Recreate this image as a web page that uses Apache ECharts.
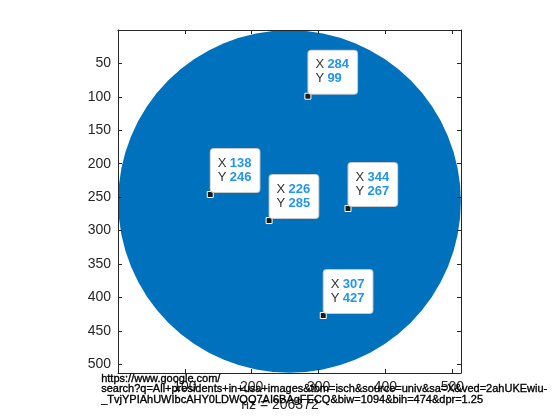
<!DOCTYPE html>
<html>
<head>
<meta charset="utf-8">
<script src="https://cdn.jsdelivr.net/npm/echarts@6/dist/echarts.min.js"></script>
<style>html,body{margin:0;padding:0;background:#fff}#c{width:560px;height:420px}</style>
</head>
<body>
<div id="c"></div>
<script>
// Data
var matrixSize = 512;            // spy of a 512x512 sparse matrix
var diskCenter = [256.5, 256.5]; // centre of the filled nonzero pattern
var diskRadius = 256.3;          // radius of the nonzero pattern
var nzCount = 206372;
var tipX = [284, 138, 226, 344, 307];
var tipY = [99, 246, 285, 267, 427];
var xTicks = [100, 200, 300, 400, 500];
var yTicks = [50, 100, 150, 200, 250, 300, 350, 400, 450, 500];
var urlLines = [
  'https://www.google.com/',
  'search?q=All+presidents+in+usa+images&tbm=isch&source=univ&sa=X&ved=2ahUKEwiu-',
  '_TvjYPIAhUWIbcAHY0LDWQQ7AI6BAgFECQ&biw=1094&bih=474&dpr=1.25'
];

var chart = echarts.init(document.getElementById('c'), null, {renderer: 'canvas'});
var axMax = matrixSize + 1;
var txt = '#262626';
var font = 'Liberation Sans, Arial, Helvetica, sans-serif';

function baseAxis(pos, labels) {
  return {
    type: 'value', position: pos, min: 0, max: axMax, interval: 50,
    z: 10,
    axisLine: {show: true, onZero: false, lineStyle: {color: txt, width: 1}},
    axisTick: {show: true, inside: true, length: 4, lineStyle: {color: txt},
      customValues: labels === 'x' ? xTicks : yTicks},
    axisLabel: {show: pos === 'bottom' || pos === 'left', color: txt, fontSize: 14, fontFamily: font,
      margin: 7, customValues: labels === 'x' ? xTicks : yTicks},
    splitLine: {show: false}
  };
}

var tipData = tipX.map(function (x, i) { return [x, tipY[i]]; });

chart.setOption({
  animation: false,
  grid: {left: 118, top: 30, width: 343, height: 343},
  xAxis: [baseAxis('bottom', 'x'), baseAxis('top', 'x')],
  yAxis: [
    Object.assign(baseAxis('left', 'y'), {inverse: true}),
    Object.assign(baseAxis('right', 'y'), {inverse: true})
  ],
  series: [
    {
      type: 'custom',
      xAxisIndex: 0, yAxisIndex: 0,
      data: [[diskCenter[0], diskCenter[1], diskRadius]],
      renderItem: function (params, api) {
        var c = api.coord([api.value(0), api.value(1)]);
        var s = api.size([api.value(2), api.value(2)]);
        return {type: 'circle', shape: {cx: c[0], cy: c[1], r: s[0]}, style: {fill: '#0072BD'}};
      },
      z: 1
    },
    {
      type: 'scatter',
      xAxisIndex: 0, yAxisIndex: 0,
      data: tipData,
      symbol: 'rect', symbolSize: 6,
      itemStyle: {color: '#1a1a1a', borderColor: '#ffffff', borderWidth: 1, opacity: 1},
      emphasis: {disabled: true},
      z: 5,
      label: {
        show: true,
        position: [4, 1],
        align: 'left', verticalAlign: 'bottom',
        backgroundColor: '#ffffff',
        borderColor: '#c8c8c8', borderWidth: 1, borderRadius: 3,
        padding: [7, 8, 8, 7],
        opacity: 1,
        formatter: function (p) {
          return '{k|X} {v|' + p.value[0] + '}\n{k|Y} {v|' + p.value[1] + '}';
        },
        rich: {
          k: {color: '#333333', fontSize: 13, fontFamily: font, lineHeight: 14},
          v: {color: '#2196F3', fontSize: 13, fontWeight: 'bold', fontFamily: font, lineHeight: 14}
        }
      }
    }
  ],
  graphic: [
    {
      type: 'text', left: 'center', top: 398, z: 20,
      style: {text: 'nz = ' + nzCount, fill: txt, fontSize: 14, fontFamily: font}
    },
    {
      type: 'text', left: 101, top: 373, z: 30,
      style: {text: urlLines.join('\n'), fill: '#000000', stroke: '#000000', lineWidth: 0.35,
        fontSize: 11, lineHeight: 10.6, fontFamily: font}
    }
  ]
});
</script>
</body>
</html>
